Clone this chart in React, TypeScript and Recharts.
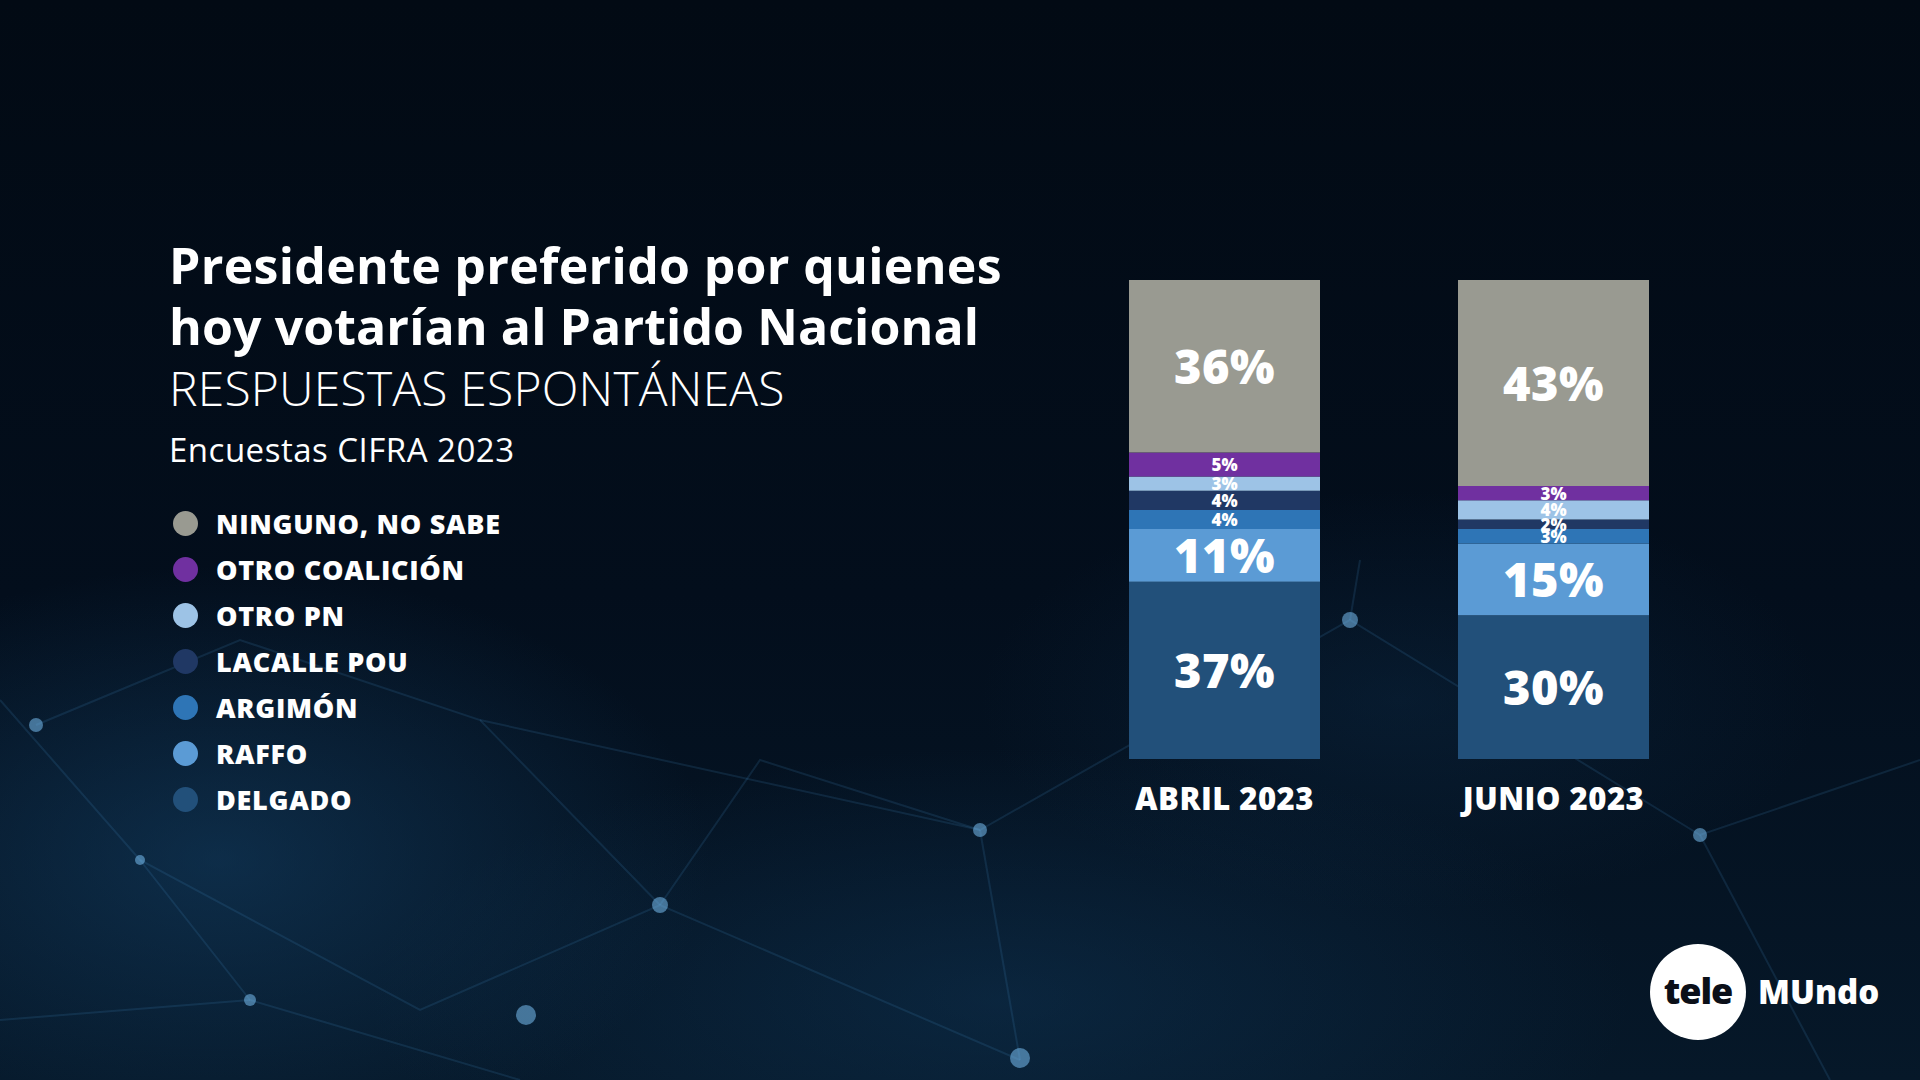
import React from "react";
import { Bar, BarChart, LabelList, Legend, XAxis, YAxis } from "recharts";

// Encuestas CIFRA 2023 — candidato preferido entre votantes del Partido Nacional

const categories = ["ABRIL 2023", "JUNIO 2023"];
const ninguno = [36, 43];
const otroCoalicion = [5, 3];
const otroPN = [3, 4];
const lacallePou = [4, 2];
const argimon = [4, 3];
const raffo = [11, 15];
const delgado = [37, 30];

type Serie = { key: string; label: string; color: string; values: number[]; big: boolean };

// bottom of the stack first
const series: Serie[] = [
  { key: "delgado", label: "DELGADO", color: "#22507a", values: delgado, big: true },
  { key: "raffo", label: "RAFFO", color: "#5b9bd5", values: raffo, big: true },
  { key: "argimon", label: "ARGIMÓN", color: "#2e75b6", values: argimon, big: false },
  { key: "lacalle", label: "LACALLE POU", color: "#203864", values: lacallePou, big: false },
  { key: "otroPN", label: "OTRO PN", color: "#9dc3e6", values: otroPN, big: false },
  { key: "otroCoalicion", label: "OTRO COALICIÓN", color: "#7030a0", values: otroCoalicion, big: false },
  { key: "ninguno", label: "NINGUNO, NO SABE", color: "#999a91", values: ninguno, big: true },
];

const data = categories.map((mes, i) => {
  const row: Record<string, string | number> = { mes };
  series.forEach((s) => (row[s.key] = s.values[i]));
  return row;
});

const FONT = "'Open Sans', 'DejaVu Sans', sans-serif";
const W = 1920;
const H = 1080;

function SegmentLabel(props: any, big: boolean) {
  const { x, y, width, height, value } = props;
  return (
    <text
      x={x + width / 2}
      y={y + height / 2}
      textAnchor="middle"
      dominantBaseline="central"
      fill="#ffffff"
      fontFamily={FONT}
      fontWeight={800}
      fontSize={big ? 47 : 17}
      letterSpacing={big ? 0.5 : 0}
    >
      {value}%
    </text>
  );
}

function MonthTick(props: any) {
  const { x, y, payload } = props;
  return (
    <text
      x={x}
      y={y + 43}
      textAnchor="middle"
      fill="#ffffff"
      fontFamily={FONT}
      fontWeight={800}
      fontSize={31}
      letterSpacing={0.5}
    >
      {payload.value}
    </text>
  );
}

function SideLegend() {
  const items = [...series].reverse();
  return (
    <div style={{ fontFamily: FONT }}>
      {items.map((s) => (
        <div key={s.key} style={{ display: "flex", alignItems: "center", height: 46 }}>
          <span
            style={{
              display: "inline-block",
              width: 25,
              height: 25,
              borderRadius: "50%",
              background: s.color,
              marginRight: 18,
            }}
          />
          <span style={{ color: "#fff", fontWeight: 800, fontSize: 27, letterSpacing: 0.7 }}>
            {s.label}
          </span>
        </div>
      ))}
    </div>
  );
}

// faint "network" decoration behind the chart
function Backdrop() {
  const stroke = "rgba(70,140,200,0.16)";
  return (
    <svg width={W} height={H} style={{ position: "absolute", left: 0, top: 0 }}>
      <g stroke={stroke} strokeWidth={2} fill="none">
        <polyline points="0,700 140,860 420,1010 660,905 1020,1060" />
        <polyline points="36,725 240,640 480,720 660,905" />
        <polyline points="140,860 250,1000 520,1080" />
        <polyline points="480,720 980,830 1350,620 1700,835 1920,760" />
        <polyline points="980,830 1020,1060" />
        <polyline points="1350,620 1360,560" />
        <polyline points="250,1000 0,1020" />
        <polyline points="660,905 760,760 980,830" />
        <polyline points="1700,835 1830,1080" />
      </g>
      <g fill="rgba(120,190,240,0.55)">
        <circle cx={36} cy={725} r={7} />
        <circle cx={140} cy={860} r={5} />
        <circle cx={660} cy={905} r={8} />
        <circle cx={980} cy={830} r={7} />
        <circle cx={1350} cy={620} r={8} />
        <circle cx={1700} cy={835} r={7} />
        <circle cx={250} cy={1000} r={6} />
        <circle cx={526} cy={1015} r={10} />
        <circle cx={1020} cy={1058} r={10} />
      </g>
    </svg>
  );
}

export default function App() {
  return (
    <div
      style={{
        position: "absolute",
        left: 0,
        top: 0,
        width: W,
        height: H,
        overflow: "hidden",
        background:
          "radial-gradient(ellipse 700px 420px at 220px 860px, rgba(22,70,110,0.5), rgba(0,0,0,0) 70%)," +
          "radial-gradient(ellipse 900px 360px at 1000px 1000px, rgba(18,60,96,0.4), rgba(0,0,0,0) 70%)," +
          "radial-gradient(ellipse 600px 300px at 1400px 700px, rgba(16,52,84,0.3), rgba(0,0,0,0) 70%)," +
          "linear-gradient(180deg, #020a14 0%, #030e1c 55%, #061829 100%)",
      }}
    >
      <Backdrop />
      <svg width={W} height={H} style={{ position: "absolute", left: 0, top: 0 }}>
        <g fill="#ffffff" fontFamily={FONT}>
          <text x={169} y={284} fontSize={50} fontWeight={700} letterSpacing={0.3}>
            Presidente preferido por quienes
          </text>
          <text x={169} y={345} fontSize={50} fontWeight={700} letterSpacing={0.1}>
            hoy votarían al Partido Nacional
          </text>
          <text x={169} y={406} fontSize={48} fontWeight={300} letterSpacing={0.2}>
            RESPUESTAS ESPONTÁNEAS
          </text>
          <text x={169} y={462} fontSize={33} fontWeight={500} letterSpacing={0.5}>
            Encuestas CIFRA 2023
          </text>
        </g>
        {/* tele mundo logo */}
        <circle cx={1698} cy={992} r={48} fill="#ffffff" />
        <text x={1698} y={1004} textAnchor="middle" fontFamily={FONT} fontWeight={800} fontSize={36} fill="#0b0f18" letterSpacing={-1}>
          tele
        </text>
        <text x={1758} y={1004} fontFamily={FONT} fontWeight={800} fontSize={33} fill="#ffffff">
          MUndo
        </text>
      </svg>

      <div style={{ position: "absolute", left: 0, top: 0 }}>
        <BarChart
          width={W}
          height={H}
          data={data}
          margin={{ top: 280, right: 202, bottom: 261, left: 1060 }}
        >
          <XAxis
            dataKey="mes"
            height={60}
            axisLine={false}
            tickLine={false}
            interval={0}
            tick={<MonthTick />}
          />
          <YAxis hide domain={[0, 100]} />
          <Legend
            layout="vertical"
            align="center"
            verticalAlign="middle"
            wrapperStyle={{ position: "absolute", left: 173, top: 500, width: 520 }}
            content={() => <SideLegend />}
          />
          {series.map((s) => (
            <Bar
              key={s.key}
              dataKey={s.key}
              name={s.label}
              stackId="a"
              fill={s.color}
              barSize={191}
              isAnimationActive={false}
            >
              <LabelList dataKey={s.key} content={(p: any) => SegmentLabel(p, s.big)} />
            </Bar>
          ))}
        </BarChart>
      </div>
    </div>
  );
}
